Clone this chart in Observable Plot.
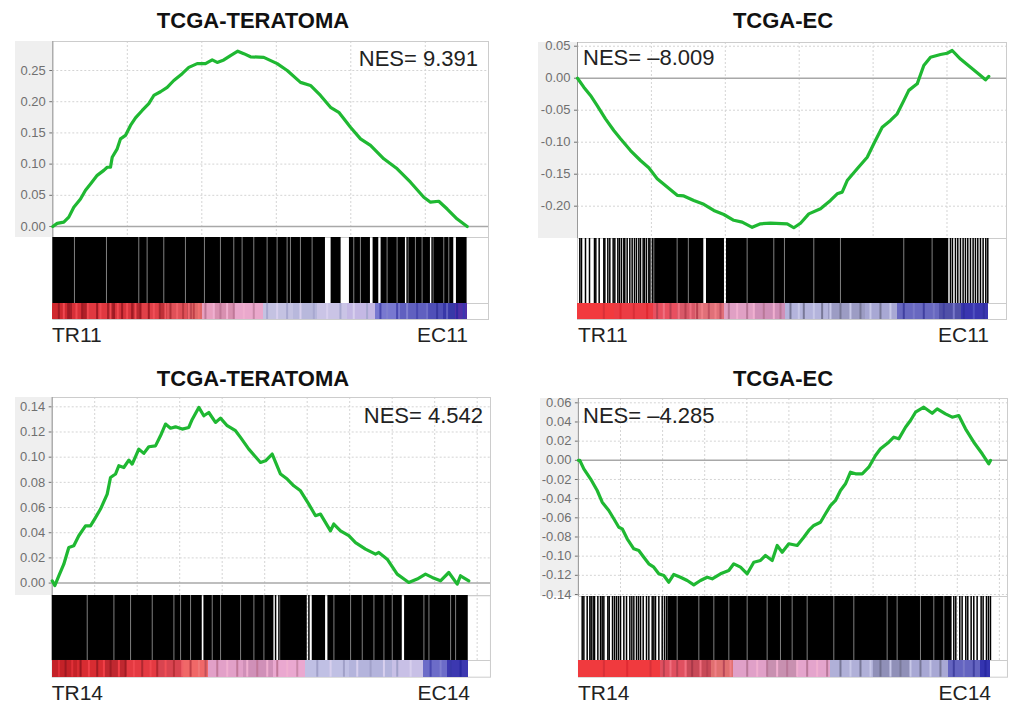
<!DOCTYPE html>
<html><head><meta charset="utf-8">
<script src="https://cdn.jsdelivr.net/npm/d3@7"></script>
<script src="https://cdn.jsdelivr.net/npm/@observablehq/plot@0.6"></script>
<style>
body{margin:0;background:#fff;font-family:"Liberation Sans",Arial,sans-serif;}
#page{position:relative;width:1012px;height:704px;overflow:hidden;background:#fff;}
</style></head><body><div id="page"></div>
<script>
// ---------- text ----------
const titles = ["TCGA-TERATOMA", "TCGA-EC", "TCGA-TERATOMA", "TCGA-EC"];
const nesLabels = ["NES= 9.391", "NES= \u20138.009", "NES= 4.542", "NES= \u20134.285"];
const leftLabels = ["TR11", "TR11", "TR14", "TR14"];
const rightLabels = ["EC11", "EC11", "EC14", "EC14"];

// ---------- y tick values ----------
const yTicks1 = [0, 0.05, 0.10, 0.15, 0.20, 0.25];
const yTicks2 = [-0.20, -0.15, -0.10, -0.05, 0, 0.05];
const yTicks3 = [0, 0.02, 0.04, 0.06, 0.08, 0.10, 0.12, 0.14];
const yTicks4 = [-0.14, -0.12, -0.10, -0.08, -0.06, -0.04, -0.02, 0, 0.02, 0.04, 0.06];

// ---------- running enrichment score [rank, ES] ----------
const es1 = [[0,0],[295,0.005],[738,0.007],[1074,0.015],[1409,0.031],[1859,0.044],[2195,0.058],[2530,0.068],[2980,0.082],[3423,0.090],[3651,0.095],[3872,0.095],[3987,0.111],[4322,0.1245],[4544,0.1405],[4879,0.146],[5215,0.162],[5550,0.174],[6000,0.186],[6443,0.197],[6779,0.21],[7228,0.216],[7678,0.223],[8121,0.234],[8685,0.245],[9128,0.255],[9691,0.261],[10248,0.261],[10698,0.267],[11034,0.263],[11477,0.267],[11926,0.274],[12416,0.281],[12819,0.277],[13268,0.272],[14161,0.271],[15060,0.261],[15732,0.250],[16624,0.231],[17295,0.226],[17966,0.210],[18638,0.191],[19195,0.183],[19980,0.159],[20651,0.1405],[21322,0.130],[22215,0.1085],[23114,0.0925],[24007,0.071],[24899,0.047],[25349,0.039],[25906,0.0405],[26470,0.028],[27141,0.012],[27812,0.000]];
const es2 = [[0,0],[426,-0.014],[880,-0.027],[1333,-0.0427],[1894,-0.0635],[2456,-0.0817],[2909,-0.0947],[3586,-0.113],[4263,-0.1286],[4824,-0.140],[5392,-0.157],[6069,-0.170],[6746,-0.183],[7192,-0.184],[7869,-0.191],[8545,-0.197],[9222,-0.2067],[9899,-0.213],[10575,-0.222],[11143,-0.225],[11820,-0.233],[12382,-0.2275],[13058,-0.2266],[14188,-0.2275],[14635,-0.2337],[15088,-0.2266],[15650,-0.212],[16441,-0.204],[17118,-0.191],[17571,-0.1806],[17909,-0.178],[18248,-0.160],[18924,-0.1416],[19601,-0.1234],[20047,-0.1025],[20616,-0.0766],[21177,-0.066],[21631,-0.0556],[22077,-0.035],[22415,-0.019],[22984,-0.0088],[23430,0.0198],[23884,0.0328],[24560,0.037],[25014,0.039],[25352,0.0433],[25913,0.030],[26590,0.0172],[27267,0.0042],[27605,-0.0025],[27828,0.0027]];
const es3 = [[0,0.0018],[122,-0.002],[311,0.0058],[546,0.015],[781,0.0283],[1016,0.0296],[1252,0.0376],[1567,0.0455],[1802,0.0455],[2038,0.052],[2273,0.0588],[2588,0.0707],[2744,0.0839],[2979,0.0866],[3134,0.0932],[3369,0.0918],[3605,0.0977],[3765,0.0945],[4075,0.1064],[4311,0.103],[4546,0.1083],[4861,0.109],[5096,0.117],[5332,0.1263],[5567,0.123],[5802,0.1241],[6118,0.1223],[6428,0.1236],[6588,0.130],[6899,0.1395],[7134,0.1329],[7369,0.1355],[7685,0.1276],[7920,0.131],[8235,0.125],[8626,0.121],[8861,0.1157],[9252,0.1064],[9802,0.0958],[10038,0.0971],[10353,0.1025],[10744,0.0866],[11059,0.0826],[11369,0.0773],[11685,0.0733],[12075,0.0627],[12391,0.0535],[12626,0.0548],[13096,0.0415],[13252,0.0469],[13567,0.0415],[13958,0.0376],[14273,0.0322],[14744,0.027],[15214,0.023],[15369,0.0243],[15765,0.019],[16235,0.0071],[16781,0.0005],[17176,0.0032],[17567,0.0071],[17882,0.0045],[18273,0.0018],[18664,0.0084],[19059,-0.0008],[19214,0.0058],[19605,0.0018]];
const es4 = [[0,0],[67,0],[257,-0.0089],[575,-0.0193],[893,-0.0315],[1131,-0.0437],[1444,-0.0524],[1682,-0.061],[1919,-0.0698],[2081,-0.0715],[2318,-0.0819],[2632,-0.0923],[2869,-0.0941],[3107,-0.1011],[3344,-0.108],[3582,-0.1115],[3819,-0.1184],[4057,-0.1202],[4295,-0.1272],[4532,-0.1191],[4850,-0.122],[5169,-0.1254],[5482,-0.130],[5800,-0.1254],[6119,-0.122],[6356,-0.1236],[6751,-0.1184],[7145,-0.115],[7382,-0.108],[7701,-0.1115],[8019,-0.1184],[8333,-0.1063],[8651,-0.1045],[8888,-0.0993],[9207,-0.1045],[9444,-0.0889],[9682,-0.0959],[9995,-0.0871],[10394,-0.0889],[10708,-0.0802],[10945,-0.0732],[11183,-0.068],[11501,-0.0646],[11739,-0.0558],[11976,-0.0472],[12214,-0.0419],[12451,-0.0315],[12689,-0.0245],[12926,-0.0124],[13164,-0.0141],[13482,-0.0141],[13796,-0.0072],[14114,0.005],[14352,0.012],[14746,0.0189],[14983,0.0241],[15221,0.0224],[15539,0.0345],[15777,0.0415],[16014,0.0502],[16409,0.0554],[16808,0.0491],[17045,0.0537],[17439,0.0485],[17758,0.045],[18071,0.0467],[18390,0.0329],[18784,0.0189],[19183,0.0068],[19496,-0.0037],[19577,-0.0002]];

// ---------- gene-set hits (ranks): dense black blocks, single hits, pale gaps inside blocks ----------
const hitBlocks1 = [[0,18299],[18679,19350],[19909,21318],[21497,21878],[22034,23667],[23891,25345],[25569,26911],[27090,27806]];
const hitTicks1 = [23780, 25457];
const hitGaps1 = [1454,3602,5771,6331,7449,8903,10178,11252,12147,12706,13489,14384,15055,15726,15950,16621,17404,20200,20647,22437,23108,24338,24786,26240,26576];

const hitBlocks2 = [[5051,8546],[8727,9944],[10080,25121]];
const hitTicks2 = [158,271,541,812,1150,1240,1466,1781,1850,2052,2187,2413,2526,2729,2841,2977,3134,3200,3360,3540,3698,3856,3991,4149,4262,4442,4533,4668,4826,4900,25233,25369,25572,25730,25910,26090,26248,26406,26587,26767,26925,27083,27263,27444,27624,27760];
const hitGaps2 = [5164,6742,7500,11478,13282,14003,15988,17792,22076,23993];

const hitBlocks3 = [[0,7061],[7139,10434],[10748,12003],[12238,12866],[12975,16475],[16584,19581]];
const hitTicks3 = [10512,10669,12081];
const hitGaps3 = [1647,2903,3687,4707,5727,6041,6511,7531,7923,8865,9492,9963,13258,14043,14592,15141,15612,16004,17494,17730,18750,18985];

const hitBlocks4 = [[4249,17755]];
const hitTicks4 = [179,258,416,543,606,700,765,923,1050,1129,1208,1398,1462,1620,1715,1810,1905,2000,2158,2285,2443,2538,2633,2760,2855,2950,3077,3235,3346,3505,3584,3663,3821,3980,4090,4185,17835,17930,18120,18231,18405,18500,18659,18785,18944,19134,19229,19387,19482,19577];
const hitGaps4 = [4692,5721,6434,7146,8017,8967,9600,10155,10868,12134,13085,14668,15143,16252,16885,17360];

// ---------- ranked-list colour bar: base zones [from, to, colour] and streaks [rank, colour] ----------
const colorBar1 = [[0,962,"#d02a30"],[962,1297,"#a81e28"],[1297,2080,"#d83038"],[2080,2416,"#b02028"],[2416,3646,"#e03840"],[3646,4206,"#a82028"],[4206,5436,"#d8343c"],[5436,5883,"#b82830"],[5883,7226,"#e04048"],[7226,7673,"#c03038"],[7673,9015,"#e05058"],[9015,9351,"#c04850"],[9351,10022,"#e06868"],[10022,10805,"#e8a0c0"],[10805,12147,"#d890b0"],[12147,14160,"#eaa8cc"],[14160,16173,"#c4c2e2"],[16173,17739,"#b8b8dc"],[17739,19753,"#cac4e6"],[19753,21654,"#c4b8e4"],[21654,23332,"#7878d0"],[23332,25121,"#6060c0"],[25121,26240,"#5050b8"],[26240,27023,"#3838a8"],[27023,27806,"#5030a8"]];
const streaks1 = [[403,"#a01a24"],[738,"#f04850"],[1074,"#a01a24"],[1588,"#f04850"],[1969,"#a01a24"],[2349,"#f04850"],[2975,"#a01a24"],[3199,"#f04850"],[3870,"#f04850"],[4094,"#a01a24"],[4362,"#f04850"],[4653,"#a01a24"],[4989,"#f04850"],[5324,"#a01a24"],[5548,"#f04850"],[5883,"#a01a24"],[6443,"#a01a24"],[6778,"#f05058"],[7181,"#a82830"],[7561,"#f05860"],[7897,"#b03038"],[8344,"#f06068"],[8747,"#b83840"],[9127,"#f06870"],[9462,"#c04048"],[9798,"#f07070"],[10245,"#c07898"],[10805,"#f0b0d0"],[11252,"#c07898"],[11699,"#f0b0d0"],[12147,"#c07898"],[12818,"#f0b0d0"],[13489,"#c888a8"],[14384,"#a8a8d0"],[15055,"#d8d0ee"],[15726,"#a8a8d0"],[16621,"#d8d0ee"],[17516,"#a8a8d0"],[18411,"#d8d0ee"],[19305,"#a8a8d0"],[20200,"#d8d0ee"],[21095,"#a8a8d0"],[21989,"#4848b0"],[22437,"#8080d0"],[23108,"#4848b0"],[23779,"#8080d0"],[24450,"#4848b0"],[25121,"#7070c8"],[25792,"#3838a0"],[26463,"#6060c0"],[27134,"#3028a0"],[27582,"#3838b0"]];

const colorBar2 = [[0,2500,"#f23a3e"],[2500,5164,"#ec3c44"],[5164,6742,"#e85060"],[6742,8000,"#d85868"],[8000,9944,"#e07078"],[9944,12000,"#e0a0c4"],[12000,14100,"#d090b8"],[14100,17000,"#b4b4dc"],[17000,19500,"#9c9cc4"],[19500,21650,"#a8a8d4"],[21650,24500,"#6868c0"],[24500,26000,"#5050a8"],[26000,27828,"#3a36b0"]];
const streaks2 = [[1781,"#d83038"],[2909,"#e02a32"],[3811,"#d83038"],[4713,"#e02a32"],[5390,"#b84050"],[5840,"#f07080"],[6291,"#b84050"],[6855,"#f07080"],[7306,"#b84050"],[7645,"#f07080"],[8095,"#b84050"],[8434,"#f08088"],[8885,"#c05060"],[9336,"#f08088"],[9674,"#c05060"],[10238,"#b87898"],[10801,"#f0b0d0"],[11478,"#b87898"],[11929,"#f0b0d0"],[12605,"#b87898"],[13282,"#f0b0d0"],[13733,"#b87898"],[14409,"#787898"],[14973,"#c8c8e8"],[15311,"#787898"],[15988,"#c8c8e8"],[16552,"#787898"],[17115,"#c8c8e8"],[17792,"#787898"],[18468,"#c8c8e8"],[19145,"#787898"],[19821,"#c8c8e8"],[20498,"#787898"],[21174,"#c8c8e8"],[22076,"#4040a0"],[22753,"#7878c8"],[23429,"#4040a0"],[24106,"#7878c8"],[24782,"#4040a0"],[25459,"#7878c8"],[26135,"#3030a0"],[26812,"#5050c0"],[27488,"#3030a0"]];

const colorBar3 = [[0,1200,"#c42228"],[1200,2500,"#d82c32"],[2500,3500,"#c02830"],[3500,5000,"#e43a42"],[5000,6200,"#d84450"],[6200,7374,"#f06868"],[7374,9000,"#e2a0c8"],[9000,10400,"#d090b8"],[10400,11924,"#eaa8d0"],[11924,14000,"#c0c0e4"],[14000,16000,"#b4b4dc"],[16000,17494,"#c8c0e6"],[17494,18600,"#6c6cc8"],[18600,19605,"#3c38b0"]];
const streaks3 = [[314,"#e03038"],[628,"#9c1820"],[941,"#e03038"],[1334,"#9c1820"],[1726,"#f04048"],[2118,"#a01c24"],[2432,"#f04048"],[2746,"#a01c24"],[3138,"#f04048"],[3452,"#a01c24"],[3844,"#f04850"],[4236,"#b02830"],[4629,"#f04850"],[4942,"#b02830"],[5335,"#f05058"],[5727,"#b83038"],[6119,"#f06068"],[6511,"#c04048"],[6904,"#f07878"],[7217,"#c05058"],[7767,"#c07898"],[8237,"#f0b0d0"],[8708,"#c07898"],[9179,"#f0b0d0"],[9649,"#c07898"],[10120,"#f0b0d0"],[10591,"#c07898"],[11061,"#f0b0d0"],[11532,"#c888a8"],[12474,"#a0a0c8"],[13101,"#d8d0ee"],[13729,"#a0a0c8"],[14356,"#d8d0ee"],[14984,"#a0a0c8"],[15612,"#d8d0ee"],[16239,"#a0a0c8"],[16867,"#d8d0ee"],[17808,"#4848b0"],[18279,"#8080d0"],[18750,"#3838a8"],[19220,"#2828a0"]];

const colorBar4 = [[0,3900,"#f03a3e"],[3900,5200,"#e05060"],[5200,6300,"#c84a58"],[6300,7384,"#e07070"],[7384,9000,"#e0a0c8"],[9000,10400,"#c890b0"],[10400,11977,"#e4a4cc"],[11977,14000,"#b0b0d8"],[14000,15800,"#9090b8"],[15800,17600,"#a8a8d4"],[17600,19100,"#6464c0"],[19100,19577,"#3434b0"]];
const streaks4 = [[1208,"#d83038"],[2317,"#e02a32"],[3425,"#d83038"],[4060,"#b84050"],[4374,"#f07080"],[4692,"#b84050"],[5088,"#f07080"],[5404,"#a83848"],[5800,"#f07080"],[6117,"#b84050"],[6513,"#f08088"],[6909,"#b84858"],[7226,"#f08088"],[8019,"#b87898"],[8494,"#f0b0d0"],[8967,"#b87898"],[9442,"#f0b0d0"],[9917,"#b87898"],[10393,"#f0b0d0"],[10868,"#b87898"],[11343,"#f0b0d0"],[11818,"#b87898"],[12451,"#787898"],[12926,"#c8c8e8"],[13401,"#787898"],[13876,"#c8c8e8"],[14351,"#707090"],[14826,"#c8c8e8"],[15301,"#787898"],[15776,"#c8c8e8"],[16251,"#787898"],[16726,"#c8c8e8"],[17201,"#787898"],[17835,"#4040a0"],[18310,"#7878c8"],[18785,"#4040a0"],[19339,"#2828a0"]];

// ---------- layout (page pixels) ----------
const layout = [
  {gray:15, left:52.3, right:488, top:41, esBottom:237, hitBottom:303, colorBottom:319, xMax:29242, xStep:5000, yDomain:[-0.0176,0.2965],
   titleX:253, titleY:28, nesX:478, nesY:65.5, nesAnchor:"end", labY:342, labL:52, labR:468},
  {gray:538, left:577, right:1006, top:42, esBottom:238, hitBottom:303, colorBottom:319, xMax:29026, xStep:5000, yDomain:[-0.2505,0.0558],
   titleX:783, titleY:28, nesX:583, nesY:65, nesAnchor:"start", labY:342, labL:578, labR:989},
  {gray:15, left:51.7, right:490, top:396.7, esBottom:595, hitBottom:660, colorBottom:676.7, xMax:20626, xStep:2000, yDomain:[-0.0101,0.1474],
   titleX:253, titleY:386, nesX:483, nesY:423, nesAnchor:"end", labY:700, labL:51.7, labR:470},
  {gray:540, left:577.9, right:1007, top:398, esBottom:596, hitBottom:660, colorBottom:676.7, xMax:20385, xStep:2000, yDomain:[-0.1421,0.0645],
   titleX:783, titleY:386, nesX:583, nesY:422.5, nesAnchor:"start", labY:700, labL:578, labR:991}
];

const curves = [es1, es2, es3, es4];
const yTicks = [yTicks1, yTicks2, yTicks3, yTicks4];
const blocks = [hitBlocks1, hitBlocks2, hitBlocks3, hitBlocks4];
const ticks = [hitTicks1, hitTicks2, hitTicks3, hitTicks4];
const gaps = [hitGaps1, hitGaps2, hitGaps3, hitGaps4];
const bars = [colorBar1, colorBar2, colorBar3, colorBar4];
const streaks = [streaks1, streaks2, streaks3, streaks4];

const page = document.getElementById("page");
const FONT = "'Liberation Sans', Arial, sans-serif";
const MT = 8;
const fmt = d => d.toFixed(2);

layout.forEach((L, i) => {
  const ml = L.left - L.gray;
  const W = L.right - L.gray + 1;
  const xGrid = d3.range(L.xStep, L.xMax, L.xStep);

  const bg = document.createElement("div");
  bg.style.cssText = `position:absolute;left:${L.gray}px;top:${L.top}px;width:${ml}px;height:${L.esBottom - L.top}px;background:#efefef;`;
  page.appendChild(bg);

  const esPlot = Plot.plot({
    width: W, height: (L.esBottom - L.top) + MT,
    marginLeft: ml, marginRight: 1, marginTop: MT, marginBottom: 0,
    x: {domain: [0, L.xMax], axis: null},
    y: {domain: L.yDomain, ticks: yTicks[i], tickFormat: fmt, tickSize: 3, tickPadding: 4, label: null},
    style: {background: "transparent", color: "#707070", fontFamily: FONT, fontSize: "13px", overflow: "visible"},
    marks: [
      Plot.ruleX(xGrid, {stroke: "#d4d4d4", strokeDasharray: "2,2"}),
      Plot.ruleY(yTicks[i].filter(d => d !== 0), {stroke: "#d4d4d4", strokeDasharray: "2,2"}),
      Plot.ruleY([0], {stroke: "#a8a8a8", strokeWidth: 1.5}),
      Plot.frame({stroke: "#cccccc"}),
      Plot.ruleX([0], {stroke: "#9a9a9a"}),
      Plot.line(curves[i], {x: d => d[0], y: d => d[1], stroke: "#1fb832", strokeWidth: 3.2, strokeLinejoin: "round", strokeLinecap: "round"})
    ]
  });
  esPlot.style.position = "absolute";
  esPlot.style.left = L.gray + "px";
  esPlot.style.top = (L.top - MT) + "px";
  page.appendChild(esPlot);

  const H = L.colorBottom - L.esBottom;
  const cH = L.colorBottom - L.hitBottom;
  const hitPlot = Plot.plot({
    width: W, height: H + 1,
    marginLeft: ml, marginRight: 1, marginTop: 0, marginBottom: 1,
    x: {domain: [0, L.xMax], axis: null},
    y: {domain: [0, H], axis: null},
    color: {type: "identity"},
    style: {background: "transparent", overflow: "visible"},
    marks: [
      Plot.ruleX(xGrid, {y1: cH, y2: H, stroke: "#d4d4d4", strokeDasharray: "2,2"}),
      Plot.ruleY([cH], {stroke: "#cccccc"}),
      Plot.frame({stroke: "#cccccc"}),
      Plot.rect(bars[i], {x1: d => d[0], x2: d => d[1], y1: 0, y2: cH, fill: d => d[2], shapeRendering: "crispEdges"}),
      Plot.ruleX(streaks[i], {x: d => d[0], y1: 0, y2: cH, stroke: d => d[1], strokeWidth: 2}),
      Plot.rect(blocks[i], {x1: d => d[0], x2: d => d[1], y1: cH, y2: H, fill: "#000"}),
      Plot.ruleX(ticks[i], {x: d => d, y1: cH, y2: H, stroke: "#000", strokeWidth: 1.5}),
      Plot.ruleX(gaps[i], {x: d => d, y1: cH, y2: H, stroke: "#fff", strokeOpacity: 0.5, strokeWidth: 1})
    ]
  });
  hitPlot.style.position = "absolute";
  hitPlot.style.left = L.gray + "px";
  hitPlot.style.top = L.esBottom + "px";
  page.appendChild(hitPlot);
});

// ---------- text overlay ----------
const ov = d3.select(page).append("svg")
  .attr("width", 1012).attr("height", 704)
  .style("position", "absolute").style("left", "0px").style("top", "0px")
  .style("pointer-events", "none").style("font-family", FONT);

layout.forEach((L, i) => {
  ov.append("text").attr("x", L.titleX).attr("y", L.titleY).attr("text-anchor", "middle")
    .attr("font-size", 22).attr("font-weight", "bold").attr("fill", "#111").text(titles[i]);
  ov.append("text").attr("x", L.nesX).attr("y", L.nesY).attr("text-anchor", L.nesAnchor)
    .attr("font-size", 22).attr("fill", "#222").text(nesLabels[i]);
  ov.append("text").attr("x", L.labL).attr("y", L.labY).attr("text-anchor", "start")
    .attr("font-size", 21).attr("fill", "#222").text(leftLabels[i]);
  ov.append("text").attr("x", L.labR).attr("y", L.labY).attr("text-anchor", "end")
    .attr("font-size", 21).attr("fill", "#222").text(rightLabels[i]);
});
</script></body></html>
